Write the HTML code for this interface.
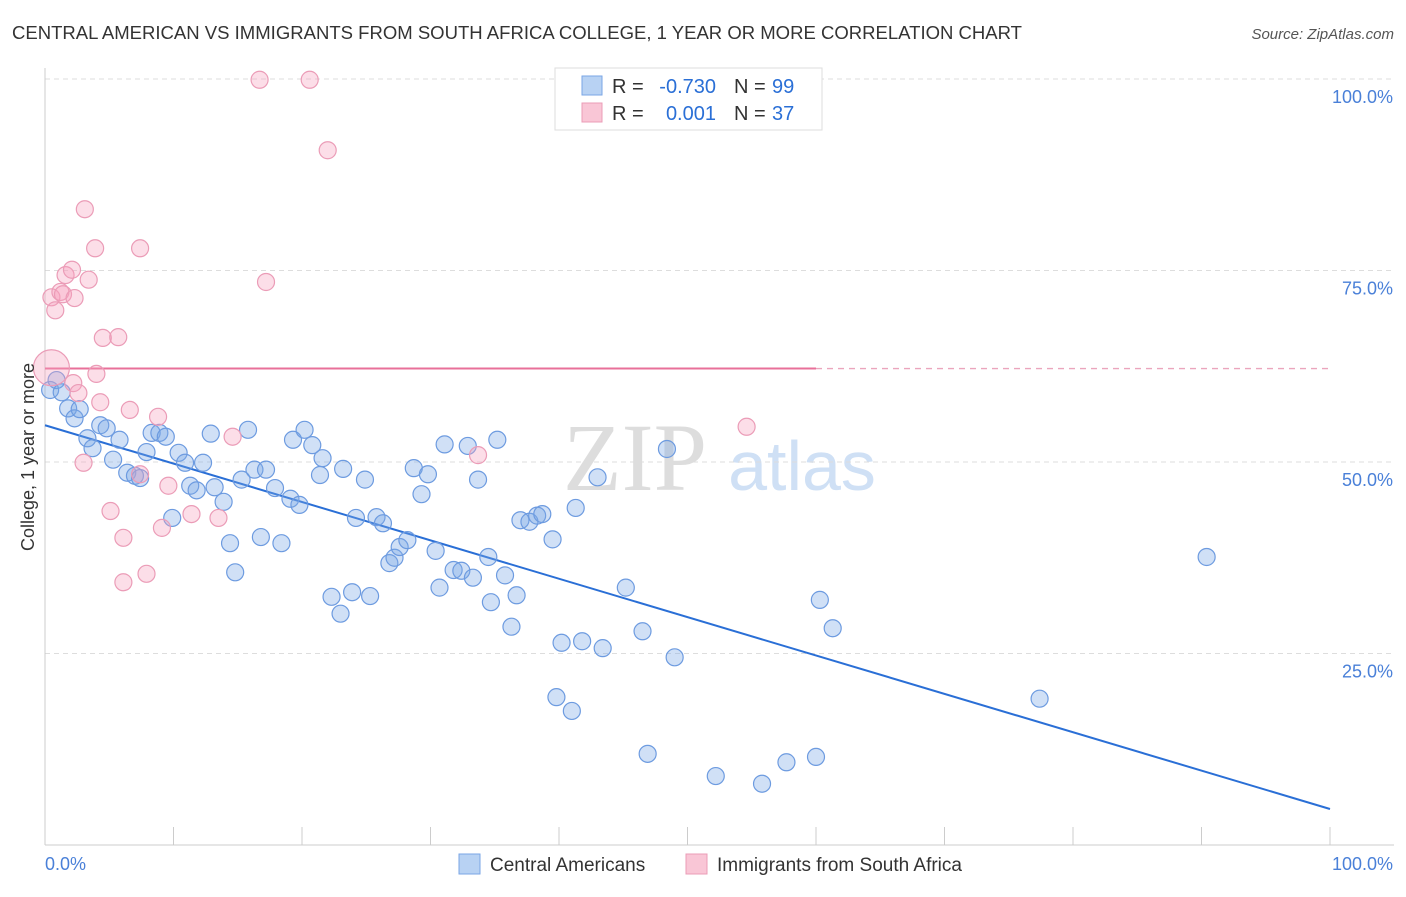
<!DOCTYPE html>
<html><head><meta charset="utf-8"><style>
body{margin:0;background:#fff;font-family:"Liberation Sans",sans-serif;}
svg text{font-family:"Liberation Sans",sans-serif;}
</style></head><body>
<svg id="chart" width="1406" height="892">
<text x="12" y="39" font-size="18" fill="#333" textLength="1010" lengthAdjust="spacingAndGlyphs">CENTRAL AMERICAN VS IMMIGRANTS FROM SOUTH AFRICA COLLEGE, 1 YEAR OR MORE CORRELATION CHART</text>
<text x="1394" y="39" font-size="15" fill="#555" text-anchor="end" font-style="italic">Source: ZipAtlas.com</text>
<g>
<text x="635" y="490" font-size="96" fill="#ddd" text-anchor="middle" style="font-family:'Liberation Serif',serif">ZIP</text>
<text x="802" y="490" font-size="70" fill="#cfe0f5" text-anchor="middle">atlas</text>
</g>
<g id="grid"></g><g id="axes"></g><g id="lines"></g><g id="dots"></g>
<text transform="translate(34,457) rotate(-90)" font-size="18" fill="#333" text-anchor="middle">College, 1 year or more</text>
<g>
<rect x="555" y="68" width="267" height="62" fill="#fff" stroke="#ddd"/>
<rect x="582" y="76" width="20" height="19" fill="#b8d2f3" stroke="#7aa6e6"/>
<rect x="582" y="103" width="20" height="19" fill="#f9c6d6" stroke="#eb9cb7"/>
<text x="612" y="93" font-size="20" fill="#333">R =</text>
<text x="716" y="93" font-size="20" fill="#2a6fd6" text-anchor="end">-0.730</text>
<text x="734" y="93" font-size="20" fill="#333">N =</text>
<text x="772" y="93" font-size="20" fill="#2a6fd6">99</text>
<text x="612" y="120" font-size="20" fill="#333">R =</text>
<text x="716" y="120" font-size="20" fill="#2a6fd6" text-anchor="end">0.001</text>
<text x="734" y="120" font-size="20" fill="#333">N =</text>
<text x="772" y="120" font-size="20" fill="#2a6fd6">37</text>
</g>
<g>
<rect x="459" y="854" width="21" height="20" fill="#b8d2f3" stroke="#7aa6e6"/>
<text x="490" y="871" font-size="19" fill="#333">Central Americans</text>
<rect x="686" y="854" width="21" height="20" fill="#f9c6d6" stroke="#eb9cb7"/>
<text x="717" y="871" font-size="19" fill="#333">Immigrants from South Africa</text>
</g>
</svg>
<script>
const blueX=[0.4,0.9,1.3,1.8,2.3,2.7,3.3,3.7,4.3,4.8,5.3,5.8,6.4,7.0,7.4,7.9,8.3,8.9,9.4,9.9,10.4,10.9,11.3,11.8,12.3,12.9,13.2,13.9,14.4,14.8,15.3,15.8,16.3,16.8,17.2,17.9,18.4,19.1,19.3,19.8,20.2,20.8,21.4,21.6,22.3,23.0,23.2,23.9,24.2,24.9,25.3,25.8,26.3,26.8,27.2,27.6,28.2,28.7,29.3,29.8,30.4,30.7,31.1,31.8,32.4,32.9,33.3,33.7,34.5,34.7,35.2,35.8,36.3,36.7,37.0,37.7,38.3,38.7,39.5,39.8,40.2,41.0,41.3,41.8,43.0,43.4,45.2,46.5,46.9,48.4,49.0,52.2,55.8,57.7,60.0,60.3,61.3,77.4,90.4];
const blueY=[59.4,60.7,59.1,57.0,55.7,56.9,53.1,51.8,54.8,54.4,50.3,52.9,48.6,48.2,47.9,51.3,53.8,53.8,53.3,42.7,51.2,49.9,46.9,46.3,49.9,53.7,46.7,44.8,39.4,35.6,47.7,54.2,49.0,40.2,49.0,46.6,39.4,45.2,52.9,44.4,54.2,52.2,48.3,50.5,32.4,30.2,49.1,33.0,42.7,47.7,32.5,42.8,42.0,36.8,37.5,38.9,39.8,49.2,45.8,48.4,38.4,33.6,52.3,35.9,35.8,52.1,34.9,47.7,37.6,31.7,52.9,35.2,28.5,32.6,42.4,42.2,43.0,43.2,39.9,19.3,26.4,17.5,44.0,26.6,48.0,25.7,33.6,27.9,11.9,51.7,24.5,9.0,8.0,10.8,11.5,32.0,28.3,19.1,37.6];
const pinkX=[0.5,0.5,0.8,1.2,1.4,1.6,2.1,2.3,3.1,3.4,3.9,4.0,2.2,2.6,3.0,4.3,4.5,5.1,5.7,6.1,6.1,6.6,7.4,7.4,7.9,8.8,9.1,9.6,11.4,13.5,14.6,16.7,17.2,20.6,22.0,33.7,54.6];
const pinkY=[62.3,71.5,69.8,72.2,71.9,74.4,75.1,71.4,83.0,73.8,77.9,61.5,60.3,59.0,49.9,57.8,66.2,43.6,66.3,40.1,34.3,56.8,77.9,48.4,35.4,55.9,41.4,46.9,43.2,42.7,53.3,99.9,73.5,99.9,90.7,50.9,54.6];
const blueTrend=[54.8,4.7];
const pinkTrend=[62.2,62.2];
const yTicks=[25,50,75,100];
const yTickLabels=["25.0%","50.0%","75.0%","100.0%"];
const xTicks=[0,10,20,30,40,50,60,70,80,90,100];
const NS="http://www.w3.org/2000/svg";
const sx=v=>45+v*12.85, sy=v=>845-v*7.66;
function mk(tag,attrs,parent){const e=document.createElementNS(NS,tag);for(const k in attrs)e.setAttribute(k,attrs[k]);document.getElementById(parent).appendChild(e);return e;}
yTicks.forEach((t,i)=>{
 const g=mk('line',{x1:45,x2:1394,y1:sy(t),y2:sy(t),stroke:'#ddd','stroke-dasharray':'5,4'},'grid');
 
 
 const l=mk('text',{x:1393,y:sy(t)+24,'font-size':18,fill:'#4a80d8','text-anchor':'end'},'grid');
 l.textContent=yTickLabels[i];
 
 
});
const ax=mk('line',{x1:45,x2:45,y1:68,y2:845,stroke:'#ccc'},'axes');


const bx=mk('line',{x1:45,x2:1394,y1:845,y2:845,stroke:'#ccc'},'axes');


xTicks.forEach(t=>{
 const e=mk('line',{x1:sx(t),x2:sx(t),y1:827,y2:845,stroke:'#ccc'},'axes');
 
 
});
const xl0=mk('text',{x:45,y:870,'font-size':18,fill:'#4a80d8'},'axes');xl0.textContent='0.0%';


const xl1=mk('text',{x:1393,y:870,'font-size':18,fill:'#4a80d8','text-anchor':'end'},'axes');xl1.textContent='100.0%';


blueX.forEach((x,i)=>{
 const c=mk('circle',{cx:sx(x),cy:sy(blueY[i]),r:8.5,fill:'rgba(120,165,230,0.35)',stroke:'#6d9be0','stroke-width':1.2},'dots');
 
 
});
pinkX.forEach((x,i)=>{
 const c=mk('circle',{cx:sx(x),cy:sy(pinkY[i]),r:i===0?18:8.5,fill:'rgba(245,160,190,0.35)',stroke:'#eb9cb7','stroke-width':1.2},'dots');
 
 
});
const bl=mk('line',{x1:sx(0),y1:sy(blueTrend[0]),x2:sx(100),y2:sy(blueTrend[1]),stroke:'#2a6fd6','stroke-width':2},'lines');


const pm=p=>pinkTrend[0]+(pinkTrend[1]-pinkTrend[0])*p/100;
const pl=mk('line',{x1:sx(0),y1:sy(pm(0)),x2:sx(60),y2:sy(pm(60)),stroke:'#e8709a','stroke-width':2},'lines');


const pd=mk('line',{x1:sx(60),y1:sy(pm(60)),x2:sx(100),y2:sy(pm(100)),stroke:'#eba5bd','stroke-width':1.3,'stroke-dasharray':'6,5'},'lines');


</script>
</body></html>
